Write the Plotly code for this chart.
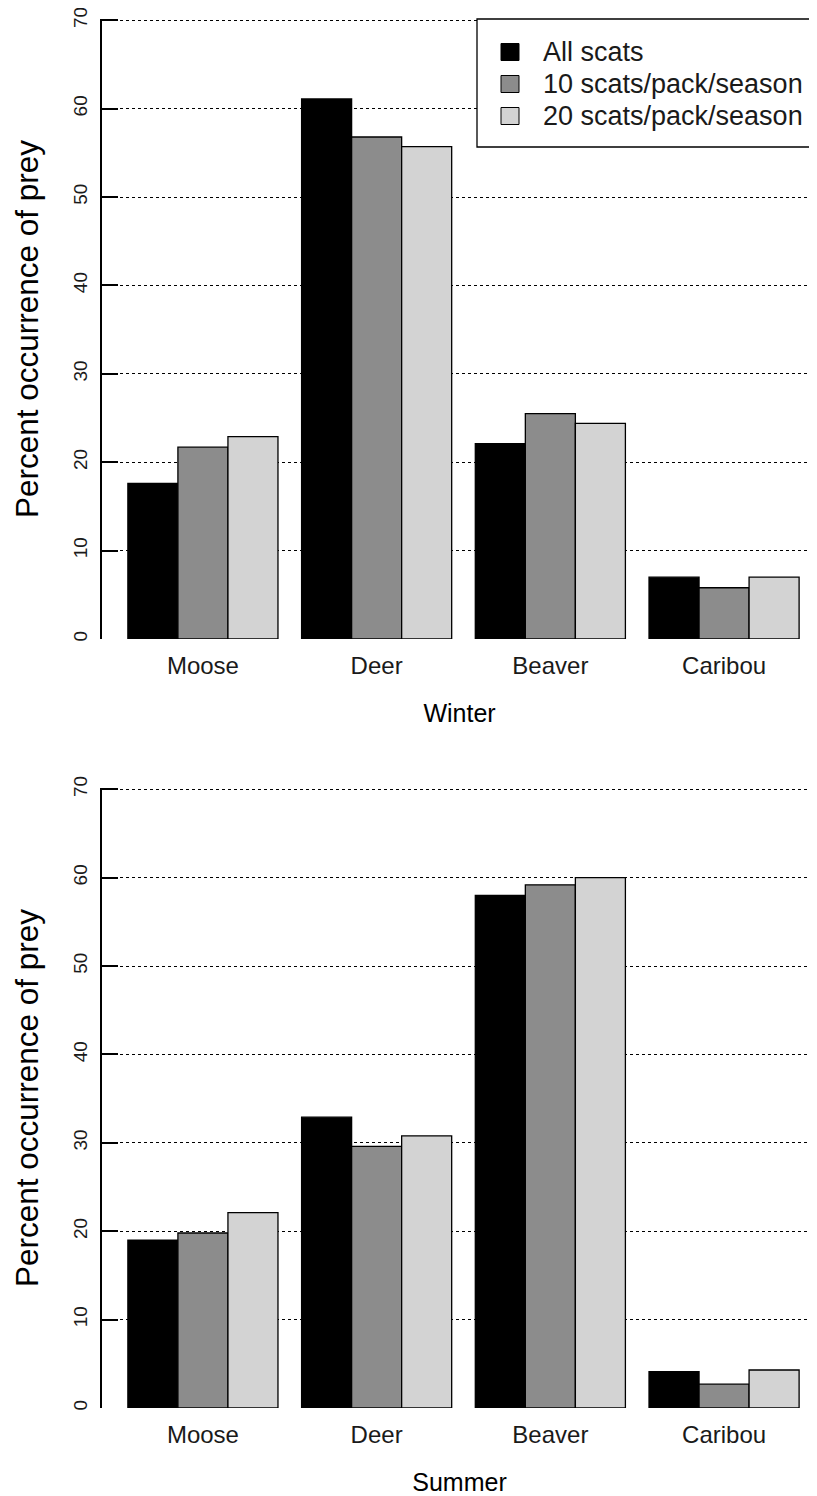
import plotly.graph_objects as go

# ---- data ----
prey = ["Moose", "Deer", "Beaver", "Caribou"]
series_names = ["All scats", "10 scats/pack/season", "20 scats/pack/season"]
winter_all = [17.6, 61.1, 22.1, 7.0]
winter_10 = [21.7, 56.8, 25.5, 5.8]
winter_20 = [22.9, 55.7, 24.4, 7.0]
summer_all = [19.0, 32.9, 58.0, 4.1]
summer_10 = [19.8, 29.6, 59.2, 2.7]
summer_20 = [22.1, 30.8, 60.0, 4.3]
y_ticks = [0, 10, 20, 30, 40, 50, 60, 70]
season_titles = ["Winter", "Summer"]

colors = ["#000000", "#8c8c8c", "#d3d3d3"]
FONT = "Arial, Liberation Sans, sans-serif"

# page body has an 8px default margin, so the figure is sized to compensate
OFF = 8
W, H = 809, 1488
L, R, T, B = 94, 0, 11, 88
PW, PH = W - L - R, H - T - B


def px2paper(px, py):
    """convert page pixel position to paper coordinates"""
    return (px - OFF - L) / PW, (OFF + H - B - py) / PH


fig = go.Figure()
winter = [winter_all, winter_10, winter_20]
summer = [summer_all, summer_10, summer_20]
for i, name in enumerate(series_names):
    fig.add_trace(go.Bar(x=prey, y=winter[i], name=name, xaxis="x", yaxis="y",
                         marker=dict(color=colors[i], line=dict(color="black", width=1.3)),
                         showlegend=False))
    fig.add_trace(go.Bar(x=prey, y=summer[i], name=name, xaxis="x2", yaxis="y2",
                         marker=dict(color=colors[i], line=dict(color="black", width=1.3)),
                         showlegend=False))

top_lo = px2paper(0, 639)[1]
bot_hi = px2paper(0, 788)[1]

yax = dict(range=[0, 70.15], tickvals=y_ticks, ticktext=[str(v) for v in y_ticks],
           tickangle=-90, ticks="inside", ticklen=16, tickwidth=1.5, tickcolor="black",
           showline=True, linecolor="black", linewidth=1.5, automargin=False,
           showgrid=True, gridcolor="black", gridwidth=1, griddash="dot",
           zeroline=False, tickfont=dict(family=FONT, size=19, color="#1a1a1a"),
           ticklabeloverflow="allow",
           title=dict(text="Percent occurrence of prey",
                      font=dict(family=FONT, size=31.5, color="black"), standoff=22),
           ticklabelstandoff=6)
xax = dict(range=[-0.581, 3.535], showline=False, showgrid=False, zeroline=False,
           automargin=False,
           ticks="", tickfont=dict(family=FONT, size=24, color="#1a1a1a"),
           ticklabelstandoff=10)

fig.update_layout(
    width=W, height=H,
    margin=dict(l=L, r=R, t=T, b=B),
    paper_bgcolor="white", plot_bgcolor="white",
    barmode="group", bargap=0.136, bargroupgap=0,
    xaxis=dict(domain=[0, 1], anchor="y",
               title=dict(text=season_titles[0], font=dict(family=FONT, size=25, color="black"),
                          standoff=26), **xax),
    yaxis=dict(domain=[top_lo, 1], anchor="x", **yax),
    xaxis2=dict(domain=[0, 1], anchor="y2",
                title=dict(text=season_titles[1], font=dict(family=FONT, size=25, color="black"),
                           standoff=26), **xax),
    yaxis2=dict(domain=[0, bot_hi], anchor="x2", **yax),
    showlegend=False,
)

# ---- legend (top panel) ----
shapes = []
annotations = []
x0, y0 = px2paper(477, 19)
x1, y1 = px2paper(815, 147)
shapes.append(dict(type="rect", xref="paper", yref="paper", x0=x0, y0=y1, x1=x1, y1=y0,
                   line=dict(color="black", width=1.3), fillcolor="white", layer="above"))
row_y = [52, 84, 116]
for i, name in enumerate(series_names):
    sx0, sy0 = px2paper(501, row_y[i] - 8.5)
    sx1, sy1 = px2paper(519, row_y[i] + 8.5)
    shapes.append(dict(type="rect", xref="paper", yref="paper", x0=sx0, y0=sy1, x1=sx1, y1=sy0,
                       line=dict(color="black", width=1), fillcolor=colors[i], layer="above"))
    tx, ty = px2paper(541, row_y[i])
    annotations.append(dict(x=tx, y=ty, xref="paper", yref="paper", text=name,
                            showarrow=False, xanchor="left", yanchor="middle",
                            font=dict(family=FONT, size=27, color="#1a1a1a")))
fig.update_layout(shapes=shapes, annotations=annotations)

fig.write_html("out.html")
